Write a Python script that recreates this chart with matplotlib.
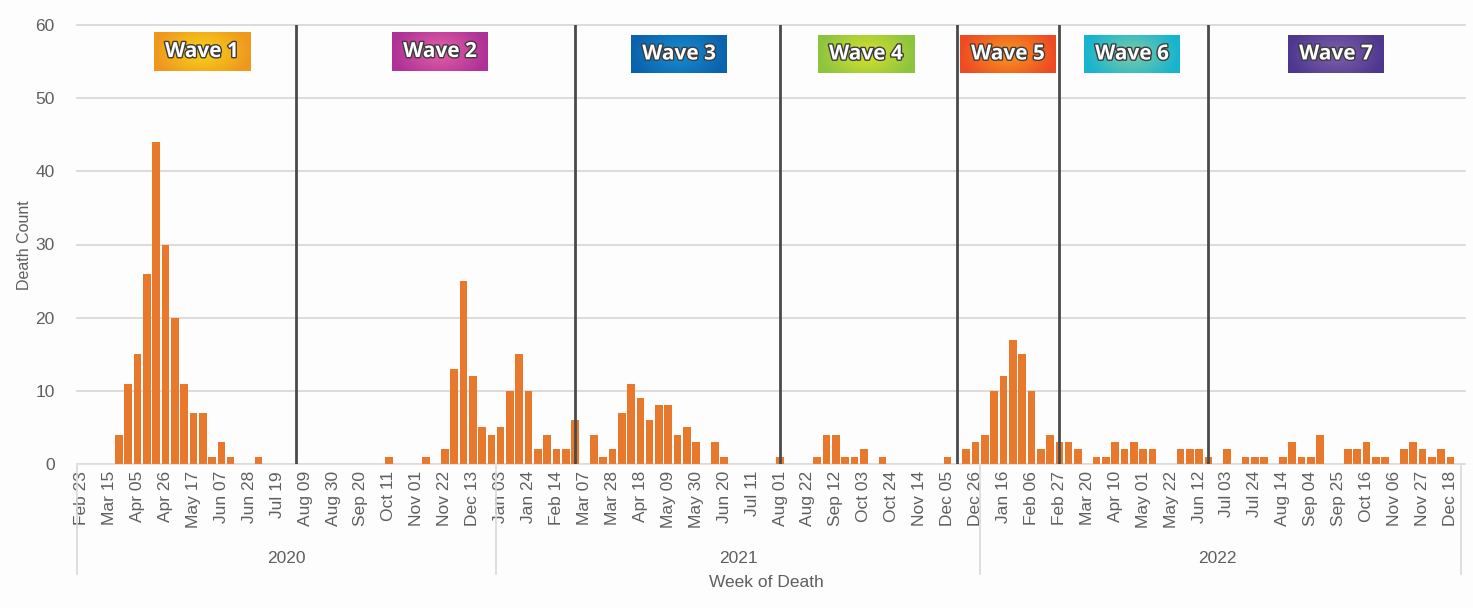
import numpy as np
import matplotlib
matplotlib.use('Agg')
from matplotlib import pyplot as plt
from matplotlib import patheffects as pe
import matplotlib.transforms as mtransforms

W, H = 1473, 608

# weekly death counts, week 0 = Feb 23 2020 ... week 147 = Dec 18 2022
deaths = [0, 0, 0, 0, 4, 11, 15, 26, 44, 30, 20, 11, 7, 7, 1, 3, 1, 0, 0, 1,
          0, 0, 0, 0, 0, 0, 0, 0, 0, 0, 0, 0, 0, 1, 0, 0, 0, 1, 0, 2,
          13, 25, 12, 5, 4, 5, 10, 15, 10, 2, 4, 2, 2, 6, 0, 4, 1, 2, 7, 11,
          9, 6, 8, 8, 4, 5, 3, 0, 3, 1, 0, 0, 0, 0, 0, 1, 0, 0, 0, 1,
          4, 4, 1, 1, 2, 0, 1, 0, 0, 0, 0, 0, 0, 1, 0, 2, 3, 4, 10, 12,
          17, 15, 10, 2, 4, 3, 3, 2, 0, 1, 1, 3, 2, 3, 2, 2, 0, 0, 2, 2,
          2, 1, 0, 2, 0, 1, 1, 1, 0, 1, 3, 1, 1, 4, 0, 0, 2, 2, 3, 1,
          1, 0, 2, 3, 2, 1, 2, 1]

# labels every 3 weeks
tick_labels = ['Feb 23', 'Mar 15', 'Apr 05', 'Apr 26', 'May 17', 'Jun 07', 'Jun 28',
               'Jul 19', 'Aug 09', 'Aug 30', 'Sep 20', 'Oct 11', 'Nov 01', 'Nov 22',
               'Dec 13', 'Jan 03', 'Jan 24', 'Feb 14', 'Mar 07', 'Mar 28', 'Apr 18',
               'May 09', 'May 30', 'Jun 20', 'Jul 11', 'Aug 01', 'Aug 22', 'Sep 12',
               'Oct 03', 'Oct 24', 'Nov 14', 'Dec 05', 'Dec 26', 'Jan 16', 'Feb 06',
               'Feb 27', 'Mar 20', 'Apr 10', 'May 01', 'May 22', 'Jun 12', 'Jul 03',
               'Jul 24', 'Aug 14', 'Sep 04', 'Sep 25', 'Oct 16', 'Nov 06', 'Nov 27',
               'Dec 18']

years = ['2020', '2021', '2022']
year_first_week = [0, 45, 97]

wave_names = ['Wave 1', 'Wave 2', 'Wave 3', 'Wave 4', 'Wave 5', 'Wave 6', 'Wave 7']
wave_breaks = [23, 53, 75, 94, 105, 121]
wave_colors = [('#F8D417', '#EE981E'), ('#E461A8', '#AE3196'), ('#168ED0', '#0B62AD'),
               ('#D9E22B', '#8CC43F'), ('#F8981D', '#EE4B24'), ('#7FCCA6', '#16B4CE'),
               ('#7D62AA', '#4E378F')]
# box pixel rects (x0, y0, x1, y1)
wave_boxes = [(154, 32, 250, 71), (392, 32, 488, 71), (631, 35, 727, 73),
              (818, 35, 914, 73), (960, 35, 1056, 73), (1084, 35, 1180, 73),
              (1288, 35, 1384, 73)]

plt.rcParams['font.family'] = ['Liberation Sans', 'DejaVu Sans']
txt = '#5f5f5f'

fig = plt.figure(figsize=(W / 100, H / 100), dpi=100)
fig.patch.set_facecolor('#fdfdfd')
ax = fig.add_axes([77 / W, 1 - 464 / H, (1456 - 77) / W, (464 - 25) / H])
ax.set_facecolor('#fdfdfe')

n = len(deaths)
x = np.arange(n)
ax.bar(x, deaths, width=0.82, color='#E8782B', zorder=2)
for b in wave_breaks:
    ax.axvline(b, color='#4a4a4a', lw=2, zorder=3)

ax.set_xlim(-0.5, n - 0.4)
ax.set_ylim(0, 60)
ax.set_yticks(range(0, 61, 10))
# gridlines run a little past the last bar, as in the original
for g in range(0, 61, 10):
    ax.plot([-0.5, n + 0.6], [g, g], color='#dcd3d3', lw=1.2, zorder=0, clip_on=False)
ax.set_xticks(x[::3])
ax.set_xticklabels(tick_labels, rotation=90, fontsize=12.5, color=txt)
ax.tick_params(axis='x', length=0, pad=5)
ax.tick_params(axis='y', length=0, pad=16, labelsize=12.5, labelcolor=txt)
for s in ['top', 'right', 'left']:
    ax.spines[s].set_visible(False)
ax.spines['bottom'].set_color('#e2e2e2')

# year group row under the week labels
trans = mtransforms.blended_transform_factory(ax.transData, ax.transAxes)
edges = year_first_week + [n + 0.6]
for k in range(len(edges)):
    xe = edges[k] - 0.5
    ax.plot([xe, xe], [-0.005, -0.25], transform=trans, color='#d8d8d8', lw=1.2, clip_on=False)
for k, yname in enumerate(years):
    xm = (edges[k] + min(edges[k + 1], n) - 1) / 2
    ax.text(xm, -0.215, yname, transform=trans, ha='center', va='center', fontsize=12.5, color=txt)
ax.text(0.5, -0.27, 'Week of Death', transform=ax.transAxes, ha='center', va='center',
        fontsize=12.5, color=txt)
fig.text(25 / W, 1 - 245 / H, 'Death Count', rotation=90, ha='center', va='center',
         fontsize=11.5, color=txt)

# wave label boxes with radial gradient
u, v = np.meshgrid(np.linspace(-1, 1, 120), np.linspace(-1, 1, 50))
r = np.clip(np.sqrt(u ** 2 + (v * 0.6) ** 2), 0, 1)[..., None]
for name, (c0, c1), (x0, y0, x1, y1) in zip(wave_names, wave_colors, wave_boxes):
    a = np.array(matplotlib.colors.to_rgb(c0))
    b = np.array(matplotlib.colors.to_rgb(c1))
    img = a * (1 - r) + b * r
    bax = fig.add_axes([x0 / W, 1 - y1 / H, (x1 - x0) / W, (y1 - y0) / H])
    bax.imshow(img, aspect='auto', extent=[0, 1, 0, 1])
    bax.set_axis_off()
    bax.text(0.5, 0.5, name, ha='center', va='center', color='white', fontsize=15,
             fontweight='bold', family=['Open Sans', 'DejaVu Sans'],
             path_effects=[pe.withStroke(linewidth=2.0, foreground='#3c3c3c')])

fig.savefig('out.png', dpi=100, facecolor=fig.get_facecolor())
